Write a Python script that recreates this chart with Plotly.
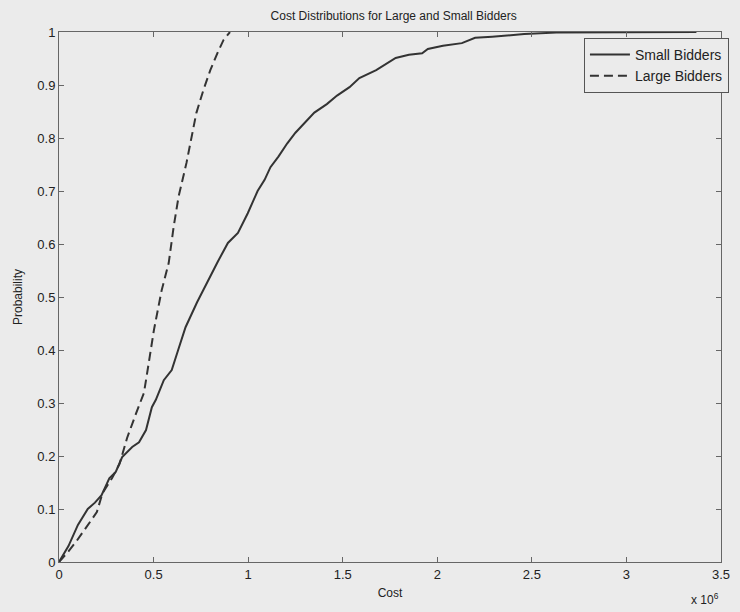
import plotly.graph_objects as go

# Cost values in units of 1e6
small_x = [0, 0.05, 0.1, 0.125, 0.152, 0.19, 0.225, 0.266, 0.30, 0.334, 0.387, 0.423, 0.46, 0.491,
           0.512, 0.554, 0.596, 0.63, 0.669, 0.73, 0.789, 0.84, 0.893, 0.946, 0.998, 1.05, 1.087,
           1.118, 1.16, 1.207, 1.25, 1.296, 1.35, 1.416, 1.47, 1.536, 1.588, 1.677, 1.73, 1.78,
           1.85, 1.92, 1.95, 2.03, 2.13, 2.2, 2.29, 2.46, 2.63, 3.0, 3.37]
small_y = [0, 0.03, 0.07, 0.085, 0.10, 0.112, 0.126, 0.158, 0.17, 0.198, 0.217, 0.226, 0.249, 0.292,
           0.306, 0.343, 0.362, 0.40, 0.443, 0.49, 0.532, 0.567, 0.602, 0.621, 0.658, 0.70, 0.721,
           0.745, 0.765, 0.79, 0.81, 0.828, 0.848, 0.864, 0.88, 0.896, 0.913, 0.928, 0.94, 0.951,
           0.957, 0.96, 0.968, 0.974, 0.979, 0.989, 0.991, 0.996, 0.999, 1.0, 1.0]

large_x = [0, 0.05, 0.094, 0.146, 0.2, 0.23, 0.28, 0.32, 0.345, 0.36, 0.407, 0.449, 0.46, 0.502,
           0.543, 0.58, 0.606, 0.632, 0.674, 0.70, 0.726, 0.763, 0.80, 0.84, 0.87, 0.904]
large_y = [0, 0.02, 0.04, 0.066, 0.094, 0.13, 0.158, 0.185, 0.217, 0.234, 0.28, 0.319, 0.343, 0.438,
           0.513, 0.564, 0.632, 0.689, 0.753, 0.80, 0.847, 0.89, 0.928, 0.962, 0.985, 1.0]

x_ticks = [0, 0.5, 1, 1.5, 2, 2.5, 3, 3.5]
x_tick_labels = ["0", "0.5", "1", "1.5", "2", "2.5", "3", "3.5"]
y_ticks = [0, 0.1, 0.2, 0.3, 0.4, 0.5, 0.6, 0.7, 0.8, 0.9, 1]
y_tick_labels = ["0", "0.1", "0.2", "0.3", "0.4", "0.5", "0.6", "0.7", "0.8", "0.9", "1"]

BG = "#ebebeb"
INK = "#333333"
FONT = "Liberation Sans, Arial, sans-serif"

fig = go.Figure()
fig.add_trace(go.Scatter(x=small_x, y=small_y, mode="lines", name="Small Bidders",
                         line=dict(color=INK, width=2)))
fig.add_trace(go.Scatter(x=large_x, y=large_y, mode="lines", name="Large Bidders",
                         line=dict(color=INK, width=2, dash="9px,5px")))

axis_common = dict(showgrid=False, zeroline=False, showline=True, linecolor="#666666", linewidth=1,
                   mirror="ticks", ticks="inside", ticklen=5, tickcolor="#666666",
                   tickfont=dict(family=FONT, size=13, color="#222222"))

fig.update_layout(
    width=740, height=612,
    margin=dict(l=59, r=11, t=32, b=50),
    paper_bgcolor=BG, plot_bgcolor=BG,
    font=dict(family=FONT, size=12, color="#222222"),
    title=dict(text="Cost Distributions for Large and Small Bidders", x=0.532, xanchor="center",
               y=0.975, yanchor="middle", font=dict(family=FONT, size=12, color="#222222")),
    xaxis=dict(range=[0, 3.5], tickvals=x_ticks, ticktext=x_tick_labels,
               title=dict(text="Cost", standoff=8, font=dict(family=FONT, size=12)), **axis_common),
    yaxis=dict(range=[0, 1], tickvals=y_ticks, ticktext=y_tick_labels,
               title=dict(text="Probability", standoff=12, font=dict(family=FONT, size=12)), **axis_common),
    legend=dict(x=1.012, y=0.989, xanchor="right", yanchor="top", bgcolor=BG,
                bordercolor="#555555", borderwidth=1, font=dict(family=FONT, size=14, color="#222222"),
                tracegroupgap=0, itemwidth=40),
    showlegend=True,
)

fig.add_annotation(text="x 10<sup>6</sup>", xref="paper", yref="paper", x=1.0, y=-0.05,
                   xanchor="right", yanchor="top", showarrow=False,
                   font=dict(family=FONT, size=12, color="#222222"))

fig.write_html("out.html")
